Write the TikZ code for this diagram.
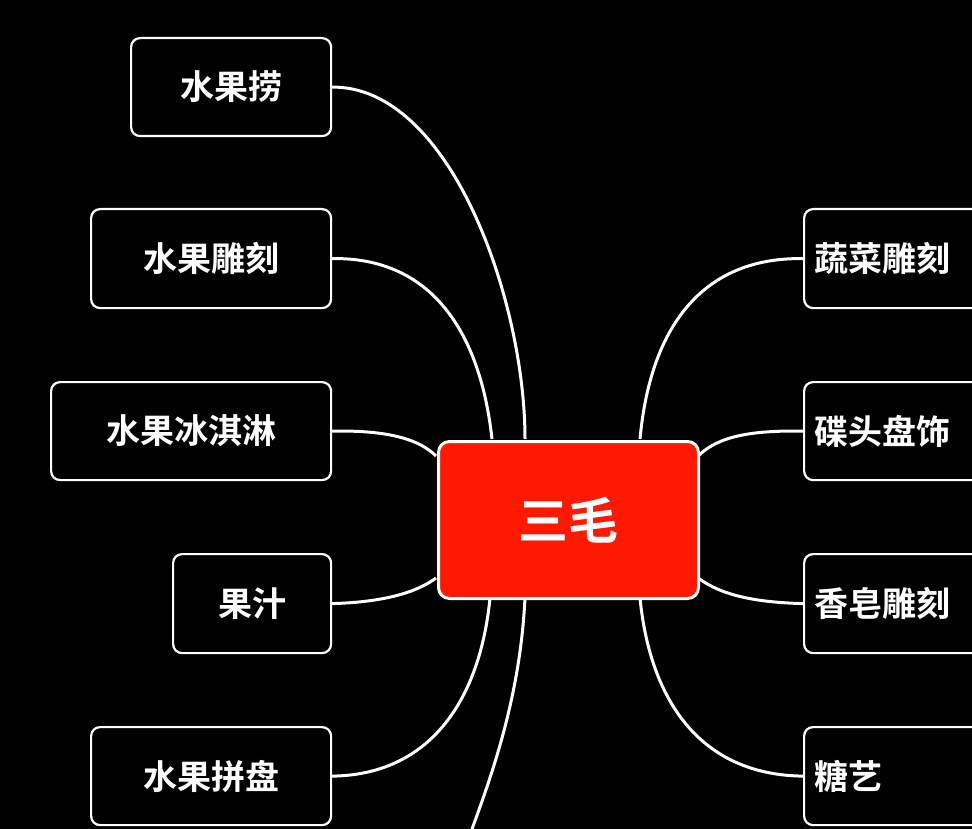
\documentclass[tikz,border=0pt]{standalone}
\usepackage{fontspec}
\setmainfont{Noto Sans CJK SC}[BoldFont={Noto Sans CJK SC Bold}]
\begin{document}
\begin{tikzpicture}[x=1pt,y=-1pt,
  leaf/.style={draw=white,line width=2.2pt,rounded corners=9pt,fill=black,text=white,font=\bfseries\fontsize{34}{34}\selectfont,inner sep=0pt,anchor=north west},
  link/.style={draw=white,line width=3pt}]
\useasboundingbox (0,0) rectangle (972,829);
\clip (0,0) rectangle (972,829);
\fill[black] (0,0) rectangle (972,829);
% connectors first
\coordinate (bot) at (468,840);
\node[leaf,minimum width=200pt,minimum height=98pt] (a) at (130,37) {水果捞};
\node[leaf,minimum width=240pt,minimum height=99pt] (b) at (90,208) {水果雕刻};
\node[leaf,minimum width=280pt,minimum height=98pt] (c) at (50,381) {水果冰淇淋};
\node[leaf,minimum width=158pt,minimum height=99pt] (d) at (172,553) {果汁};
\node[leaf,minimum width=240pt,minimum height=98pt] (e) at (90,726) {水果拼盘};
\node[leaf,minimum width=240pt,minimum height=99pt,text width=220pt,align=left] (f) at (803,208) {蔬菜雕刻};
\node[leaf,minimum width=240pt,minimum height=98pt,text width=220pt,align=left] (g) at (803,381) {碟头盘饰};
\node[leaf,minimum width=240pt,minimum height=99pt,text width=220pt,align=left] (h) at (803,553) {香皂雕刻};
\node[leaf,minimum width=240pt,minimum height=98pt,text width=220pt,align=left] (i) at (803,726) {糖艺};
\node[draw=white,line width=3pt,rounded corners=11pt,fill=red!70!orange!90!white,fill=red!80!orange,text=white,
  font=\bfseries\fontsize{50}{50}\selectfont,minimum width=260pt,minimum height=157pt,anchor=north west] (m) at (437,440) {三毛};
\begin{scope}[on background layer/.try]
\end{scope}
\draw[link] (a.east) .. controls (450,86) and (525,300) .. (525,439);
\draw[link] (b.east) .. controls (430,257) and (480,330) .. (492,439);
\draw[link] (c.east) .. controls (390,430) and (420,440) .. (436,456);
\draw[link] (d.east) .. controls (390,602) and (420,590) .. (436,578);
\draw[link] (e.east) .. controls (430,775) and (480,700) .. (490,598);
\draw[link] (525,598) .. controls (520,700) and (490,780) .. (bot);
\draw[link] (f.west) .. controls (700,257) and (650,330) .. (640,439);
\draw[link] (g.west) .. controls (740,430) and (715,440) .. (698,456);
\draw[link] (h.west) .. controls (740,602) and (715,590) .. (698,578);
\draw[link] (i.west) .. controls (700,775) and (650,700) .. (640,598);
\end{tikzpicture}
\end{document}
